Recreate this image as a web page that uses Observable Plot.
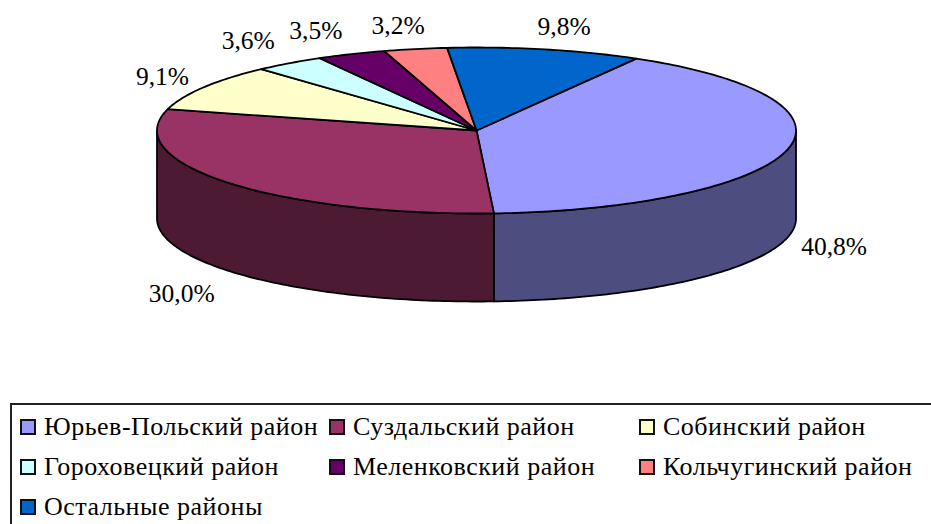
<!DOCTYPE html>
<html lang="ru">
<head>
<meta charset="utf-8">
<script src="https://cdn.jsdelivr.net/npm/d3@7"></script>
<script src="https://cdn.jsdelivr.net/npm/@observablehq/plot@0.6"></script>
<style>
  html, body { margin: 0; padding: 0; width: 931px; height: 524px; overflow: hidden; background: #fff; }
  #chart svg { display: block; }
  #legend {
    position: absolute; left: 10px; top: 403px; width: 960px; height: 160px;
    box-sizing: border-box; border-top: 2px solid #222; border-left: 2px solid #222;
    padding: 2px 0 0 8px;
    display: grid; grid-template-columns: 309px 310px 300px; grid-auto-rows: 40px;
    font: 26px "Liberation Serif", serif; letter-spacing: 0.5px; color: #000;
  }
  .item { display: flex; align-items: center; white-space: nowrap; }
  .sw { width: 16px; height: 16px; box-sizing: border-box; border: 2px solid #111; margin-right: 8px; flex: none; }
</style>
</head>
<body>
<div id="chart"></div>
<div id="legend"></div>
<script>
const districts = ["Юрьев-Польский район", "Суздальский район", "Собинский район", "Гороховецкий район", "Меленковский район", "Кольчугинский район", "Остальные районы"];
const shares = [40.8, 30.0, 9.1, 3.6, 3.5, 3.2, 9.8];
const labels = ["40,8%", "30,0%", "9,1%", "3,6%", "3,5%", "3,2%", "9,8%"];
const topColors = ["#9999FF", "#993366", "#FFFFCC", "#CCFFFF", "#660066", "#FF8080", "#0066CC"];
const sideColors = ["#4D4D80", "#4D1A33", "#808066", "#668080", "#330033", "#804040", "#003366"];

const startAngle = 30;
const depth = 88 / 83;   // wall height in units of the ellipse's vertical radius

const rad = (a) => a * Math.PI / 180;
const rim = (a, dy = 0) => ({x: Math.sin(rad(a)), y: -Math.cos(rad(a)) + dy});
const arc = (a0, a1, dy = 0) => {
  const n = Math.max(2, Math.ceil(Math.abs(a1 - a0)));
  return d3.range(n + 1).map((i) => rim(a0 + (a1 - a0) * i / n, dy));
};

let acc = startAngle;
const slices = shares.map((v, i) => {
  const a0 = acc, a1 = acc + v * 3.6;
  acc = a1;
  return {i, a0, a1, mid: (a0 + a1) / 2};
});

const topOutline = (s) => [{x: 0, y: 0}, ...arc(s.a0, s.a1), {x: 0, y: 0}];
const wallOutline = (s) => {
  const a0 = Math.max(s.a0, 90), a1 = Math.min(s.a1, 270);
  if (a1 <= a0) return null;
  const pts = [...arc(a0, a1), ...arc(a1, a0, depth)];
  return [...pts, pts[0]];
};

const polygon = (pts, fill) => Plot.line(pts, {
  x: "x", y: "y", fill, stroke: "#000", strokeWidth: 1.8, strokeLinejoin: "round", curve: "linear"
});

const clamp = (v, m) => Math.max(-m, Math.min(m, v));
const labelData = slices.map((s) => {
  const front = s.mid > 90 && s.mid < 270;
  const p = rim(s.mid, front ? depth : 0);
  const sn = Math.sin(rad(s.mid)), cs = Math.cos(rad(s.mid));
  return {
    text: labels[s.i],
    x: p.x + clamp(sn * 90, front ? 47 : 41) / 320,
    y: p.y - (cs > 0 ? clamp(41 * cs - 10.5, 23) : clamp(37 * cs, 24)) / 83
  };
});

const walls = slices.map((s) => [s, wallOutline(s)]).filter(([, w]) => w)
  .map(([s, w]) => polygon(w, sideColors[s.i]));
const tops = slices.map((s) => polygon(topOutline(s), topColors[s.i]));

const chart = Plot.plot({
  width: 931,
  height: 402,
  margin: 0,
  x: {domain: [-1, 1], range: [156.5, 795.5], axis: null},
  y: {domain: [-1, 1], range: [47, 213], axis: null},
  style: {background: "#fff"},
  marks: [
    ...walls,
    ...tops,
    Plot.text(labelData, {
      x: "x", y: "y", text: "text", fill: "#000", stroke: "none",
      fontFamily: "Liberation Serif", fontSize: 25.5, textAnchor: "middle", lineAnchor: "middle"
    })
  ]
});
document.getElementById("chart").append(chart);

const legend = d3.select("#legend");
districts.forEach((name, i) => {
  const item = legend.append("div").attr("class", "item");
  item.append("span").attr("class", "sw").style("background", topColors[i]);
  item.append("span").text(name);
});
</script>
</body>
</html>
